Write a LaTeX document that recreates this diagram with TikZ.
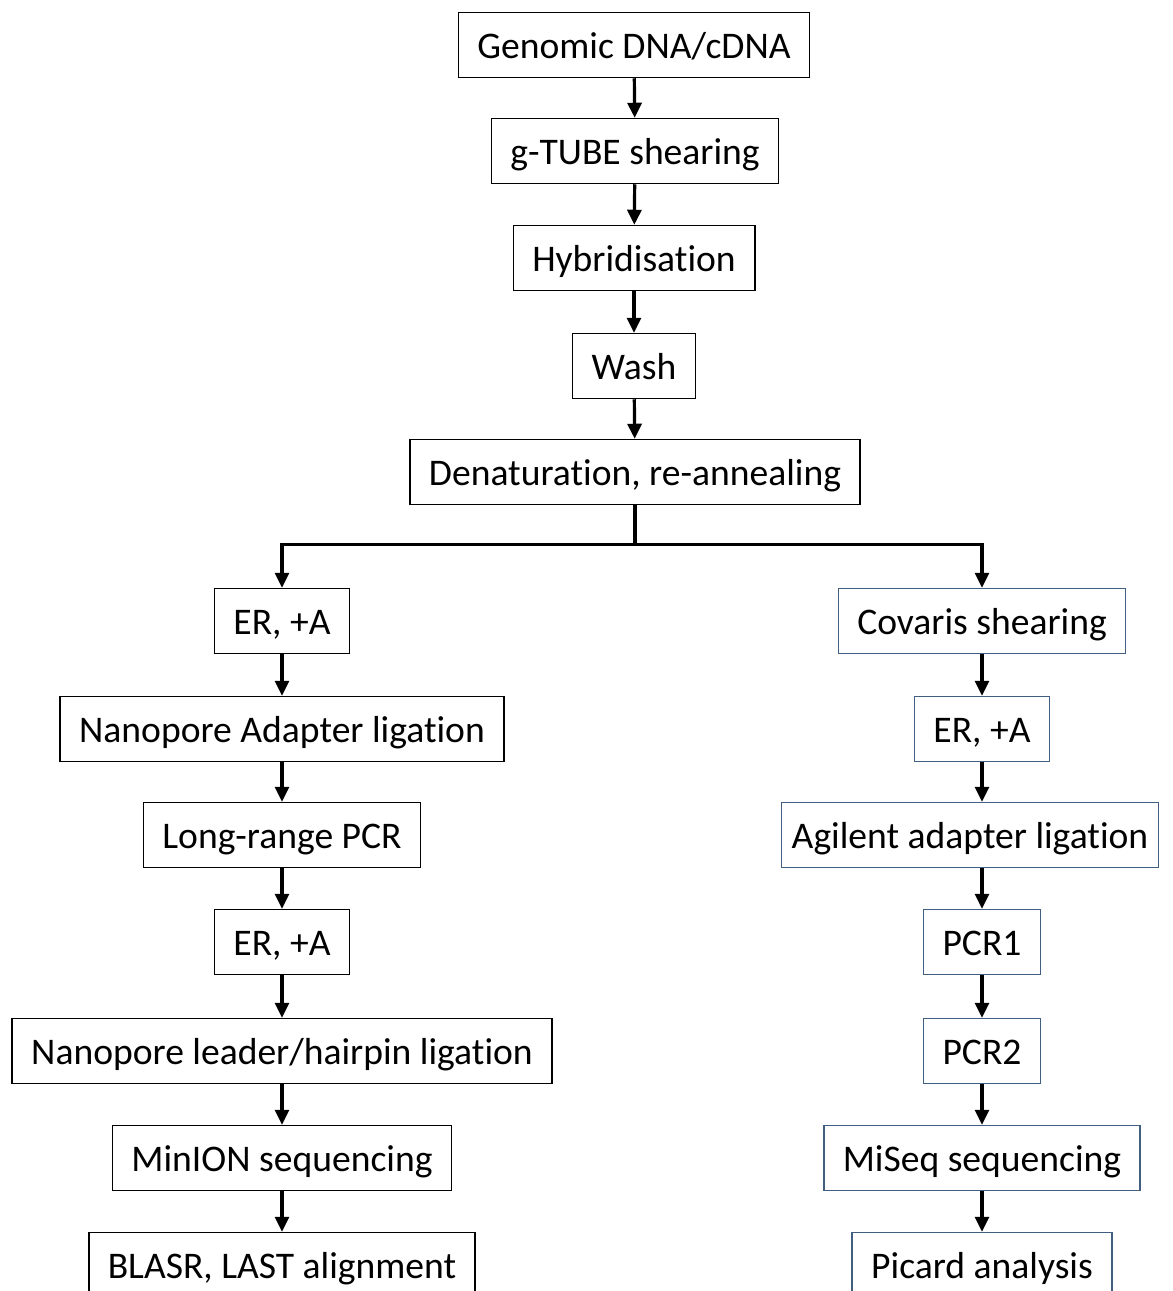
\documentclass[tikz,border=0pt]{standalone}
\usepackage{fontspec}
\setmainfont{Carlito}[Ligatures={NoCommon}]
\usetikzlibrary{arrows.meta}
\definecolor{stepblue}{RGB}{65,95,128}
\begin{document}
\begin{tikzpicture}[x=0.5pt, y=-0.5pt,
    every node/.style={font=\fontsize{18.8}{22}\selectfont},
    stepbox/.style={draw, line width=0.75pt, minimum height=32.5pt, inner xsep=9.5pt, text height=15.5pt, text depth=2pt},
    bluebox/.style={stepbox, draw=stepblue},
    flow/.style={-{Triangle[width=7pt,length=7.5pt]}, line width=1.6pt}]
    \useasboundingbox (0,0) rectangle (1173,1291);

    % Common steps - top
    \node[stepbox] (genomic) at (634,45) {Genomic DNA/cDNA};
    \node[stepbox] (gtube) at (635,151) {g-TUBE shearing};
    \node[stepbox] (hybrid) at (634,258) {Hybridisation};
    \node[stepbox] (wash) at (634,366) {Wash};
    \node[stepbox] (denat) at (635,472) {Denaturation, re-annealing};

    % Nanopore branch - left
    \node[stepbox] (erleft) at (282,621) {ER, +A};
    \node[stepbox] (npadapt) at (282,729) {Nanopore Adapter ligation};
    \node[stepbox] (lrpcr) at (282,835) {Long-range PCR};
    \node[stepbox] (erleftb) at (282,942) {ER, +A};
    \node[stepbox] (nphair) at (282,1051) {Nanopore leader/hairpin ligation};
    \node[stepbox] (minion) at (282,1158) {MinION sequencing};
    \node[stepbox] (blasr) at (282,1265) {BLASR, LAST alignment};

    % Illumina branch - right
    \node[bluebox] (covaris) at (982,621) {Covaris shearing};
    \node[bluebox] (erright) at (982,729) {ER, +A};
    \node[bluebox, inner xsep=5pt] (agilent) at (970,835) {Agilent adapter ligation};
    \node[bluebox] (pcrone) at (982,942) {PCR1};
    \node[bluebox] (pcrtwo) at (982,1051) {PCR2};
    \node[bluebox] (miseq) at (982,1158) {MiSeq sequencing};
    \node[bluebox] (picard) at (982,1265) {Picard analysis};

    % Arrows - common part
    \draw[flow] (genomic) -- (gtube);
    \draw[flow] (gtube) -- (hybrid);
    \draw[flow] (hybrid) -- (wash);
    \draw[flow] (wash) -- (denat);

    % Split into both branches
    \draw[line width=1.6pt] (denat.south) -- ++(0,39) coordinate (split);
    \draw[flow] (split) -| (erleft.north);
    \draw[flow] (split) -| (covaris.north);

    % Arrows - left branch
    \draw[flow] (erleft) -- (npadapt);
    \draw[flow] (npadapt) -- (lrpcr);
    \draw[flow] (lrpcr) -- (erleftb);
    \draw[flow] (erleftb) -- (nphair);
    \draw[flow] (nphair) -- (minion);
    \draw[flow] (minion) -- (blasr);

    % Arrows - right branch
    \draw[flow] (covaris) -- (erright);
    \draw[flow] (erright.south) -- (erright.south |- agilent.north);
    \draw[flow] (erright.south |- agilent.south) -- (pcrone.north);
    \draw[flow] (pcrone) -- (pcrtwo);
    \draw[flow] (pcrtwo) -- (miseq);
    \draw[flow] (miseq) -- (picard);
\end{tikzpicture}
\end{document}
